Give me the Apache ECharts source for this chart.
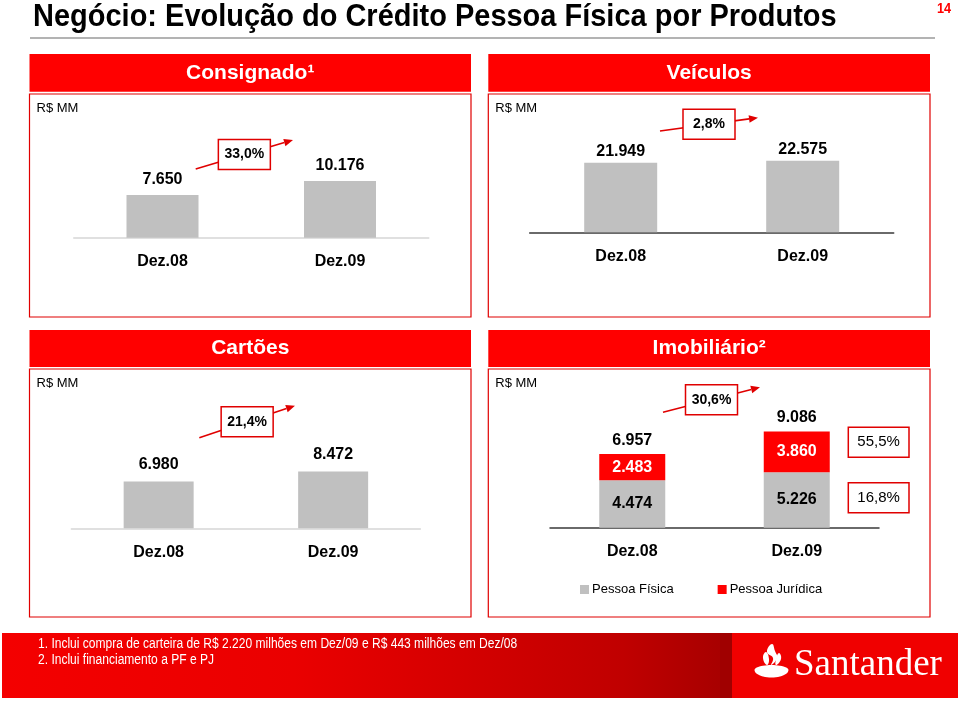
<!DOCTYPE html>
<html><head><meta charset="utf-8">
<script src="https://cdn.jsdelivr.net/npm/echarts@6/dist/echarts.min.js"></script>
<style>html,body{margin:0;padding:0;background:#fff}#c{width:960px;height:701px}</style>
</head><body><div id="c"></div>
<script>
// ---------- data ----------
const categories = ['Dez.08', 'Dez.09'];
const consignado = [7650, 10176];
const veiculos = [21949, 22575];
const cartoes = [6980, 8472];
const imobPF = [4474, 5226];
const imobPJ = [2483, 3860];
const imobTotal = [6957, 9086];
const growthLabels = ['33,0%', '2,8%', '21,4%', '30,6%'];
const imobGrowthPJ = '55,5%';
const imobGrowthPF = '16,8%';
const panelTitles = ['Consignado¹', 'Veículos', 'Cartões', 'Imobiliário²'];
const legendNames = ['Pessoa Física', 'Pessoa Jurídica'];
const unitLabel = 'R$ MM';
const pageTitle = 'Negócio: Evolução do Crédito Pessoa Física por Produtos';
const pageNumber = '14';
const footnotes = [
  '1. Inclui compra de carteira de R$ 2.220 milhões em Dez/09 e R$ 443 milhões em Dez/08',
  '2. Inclui financiamento a PF e PJ'
];
const brandName = 'Santander';

// ---------- style / layout ----------
const RED = '#ff0000';
const GREY = '#c0c0c0';
const FONT = '"Liberation Sans", Arial, sans-serif';
const fmt = v => String(v).replace(/\B(?=(\d{3})+(?!\d))/g, '.');

const grids = [
  { left: 73.75, width: 355, top: 126.1, height: 111.6, max: 20000, axisColor: '#d6d6d6', barWidth: 72, dist: 7 },
  { left: 529.7, width: 364, top: 105.5, height: 126.8, max: 40000, axisColor: '#3a3a3a', barWidth: 73, dist: 3.5 },
  { left: 71.4, width: 349, top: 427.8, height: 100.5, max: 15000, axisColor: '#d6d6d6', barWidth: 70, dist: 9 },
  { left: 550, width: 329, top: 421.7, height: 106, max: 10000, axisColor: '#3a3a3a', barWidth: 66, dist: 5 }
];
const panels = [
  { x: 29.5, w: 441.5, hy: 54, hh: 37.7, by: 94, bh: 223 },
  { x: 488.3, w: 441.7, hy: 54, hh: 37.7, by: 94, bh: 223 },
  { x: 29.5, w: 441.5, hy: 330, hh: 37, by: 369, bh: 248 },
  { x: 488.3, w: 441.7, hy: 330, hh: 37, by: 369, bh: 248 }
];
const arrows = [
  [195.7, 169, 293, 140],
  [660, 131, 758, 117.7],
  [199.3, 437.7, 295, 405.7],
  [663, 412.3, 760, 387.3]
];

const labelStyle = { fontSize: 16, fontWeight: 'bold', color: '#000', fontFamily: FONT };

const option = {
  animation: false,
  textStyle: { fontFamily: FONT },
  grid: grids.map(g => ({ left: g.left, width: g.width, top: g.top, height: g.height, outerBoundsMode: 'none', containLabel: false })),
  xAxis: grids.map((g, i) => ({
    type: 'category', gridIndex: i, data: categories,
    axisTick: { show: false },
    axisLine: { lineStyle: { color: g.axisColor, width: 1.5 } },
    axisLabel: { fontSize: 16, fontWeight: 'bold', color: '#000', margin: 16, fontFamily: FONT }
  })),
  yAxis: grids.map((g, i) => ({ type: 'value', gridIndex: i, min: 0, max: g.max, show: false, splitLine: { show: false } })),
  legend: {
    data: legendNames, left: 580, top: 583, padding: 0, itemWidth: 9, itemHeight: 9, itemGap: 44, icon: 'rect',
    textStyle: { fontSize: 13, color: '#000', fontFamily: FONT, padding: [0, 0, 0, -2] }, selectedMode: false
  },
  series: [
    { name: 'Consignado', type: 'bar', xAxisIndex: 0, yAxisIndex: 0, data: consignado, barWidth: grids[0].barWidth,
      itemStyle: { color: GREY }, label: Object.assign({ show: true, position: 'top', distance: grids[0].dist, formatter: p => fmt(p.value) }, labelStyle) },
    { name: 'Veículos', type: 'bar', xAxisIndex: 1, yAxisIndex: 1, data: veiculos, barWidth: grids[1].barWidth,
      itemStyle: { color: GREY }, label: Object.assign({ show: true, position: 'top', distance: grids[1].dist, formatter: p => fmt(p.value) }, labelStyle) },
    { name: 'Cartões', type: 'bar', xAxisIndex: 2, yAxisIndex: 2, data: cartoes, barWidth: grids[2].barWidth,
      itemStyle: { color: GREY }, label: Object.assign({ show: true, position: 'top', distance: grids[2].dist, formatter: p => fmt(p.value) }, labelStyle) },
    { name: legendNames[0], type: 'bar', xAxisIndex: 3, yAxisIndex: 3, stack: 'imob', data: imobPF, barWidth: grids[3].barWidth,
      itemStyle: { color: GREY }, label: Object.assign({ show: true, position: 'inside', formatter: p => fmt(p.value) }, labelStyle) },
    { name: legendNames[1], type: 'bar', xAxisIndex: 3, yAxisIndex: 3, stack: 'imob', data: imobPJ, barWidth: grids[3].barWidth,
      itemStyle: { color: RED }, label: Object.assign({}, labelStyle, { show: true, position: 'inside', color: '#fff', formatter: p => fmt(p.value) }) },
    { name: 'Total', type: 'scatter', xAxisIndex: 3, yAxisIndex: 3, data: imobTotal, symbolSize: 1, silent: true,
      itemStyle: { color: 'rgba(0,0,0,0)', opacity: 1 },
      label: Object.assign({ show: true, position: 'top', distance: grids[3].dist, formatter: p => fmt(p.value) }, labelStyle) }
  ],
  graphic: []
};

const g = [];
// page title
g.push({ type: 'text', x: 33, y: 2, scaleX: 0.935, style: { text: pageTitle, fill: '#000', font: 'bold 31px ' + FONT } });
g.push({ type: 'line', shape: { x1: 30, y1: 38, x2: 935, y2: 38 }, style: { stroke: '#9a9a9a', lineWidth: 1.5 } });
g.push({ type: 'text', x: 937, y: 1, scaleX: 0.85, style: { text: pageNumber, fill: RED, font: 'bold 15px ' + FONT } });

// panels
panels.forEach((p, i) => {
  g.push({ type: 'rect', shape: { x: p.x, y: p.hy, width: p.w, height: p.hh }, style: { fill: RED } });
  g.push({ type: 'text', x: p.x + p.w / 2, y: p.hy + p.hh / 2, style: { text: panelTitles[i], fill: '#fff', font: 'bold 21px ' + FONT, align: 'center', verticalAlign: 'middle' } });
  g.push({ type: 'rect', shape: { x: p.x, y: p.by, width: p.w, height: p.bh }, style: { fill: 'none', stroke: '#e00000', lineWidth: 1.2 } });
  g.push({ type: 'text', x: p.x + 7, y: p.by + 14, style: { text: unitLabel, fill: '#000', font: '13px ' + FONT, verticalAlign: 'middle' } });
});

// growth arrows + boxes
arrows.forEach((a, i) => {
  const [sx, sy, ex, ey] = a;
  const dx = ex - sx, dy = ey - sy, L = Math.hypot(dx, dy);
  const ux = dx / L, uy = dy / L, nx = -uy, ny = ux;
  const hl = 9, hw = 3.8;
  const bx = ex - ux * hl, by = ey - uy * hl;
  g.push({ type: 'line', shape: { x1: sx, y1: sy, x2: bx, y2: by }, style: { stroke: '#e00000', lineWidth: 1.6 } });
  g.push({ type: 'polygon', shape: { points: [[ex, ey], [bx + nx * hw, by + ny * hw], [bx - nx * hw, by - ny * hw]] }, style: { fill: '#e00000' } });
  const cx = (sx + ex) / 2, cy = (sy + ey) / 2;
  g.push({ type: 'rect', shape: { x: cx - 26, y: cy - 15, width: 52, height: 30 }, style: { fill: '#fff', stroke: '#e00000', lineWidth: 1.5 } });
  g.push({ type: 'text', x: cx, y: cy, style: { text: growthLabels[i], fill: '#000', font: 'bold 14px ' + FONT, align: 'center', verticalAlign: 'middle' } });
});

// segment growth boxes (Imobiliário)
[[imobGrowthPJ, 427.3], [imobGrowthPF, 482.7]].forEach(([t, y]) => {
  g.push({ type: 'rect', shape: { x: 848.3, y: y, width: 60.7, height: 30 }, style: { fill: '#fff', stroke: '#e00000', lineWidth: 1.5 } });
  g.push({ type: 'text', x: 878.6, y: y + 15, style: { text: t, fill: '#000', font: '15px ' + FONT, align: 'center', verticalAlign: 'middle' } });
});

// footer band
g.push({ type: 'rect', shape: { x: 2, y: 633, width: 730, height: 65 }, style: {
  fill: new echarts.graphic.LinearGradient(0, 0, 1, 0, [
    { offset: 0, color: '#f40000' }, { offset: 0.4, color: '#ea0000' }, { offset: 0.85, color: '#c00000' }, { offset: 1, color: '#a50000' }
  ]) } });
g.push({ type: 'rect', shape: { x: 720, y: 633, width: 12, height: 65 }, style: { fill: '#a00000' } });
g.push({ type: 'rect', shape: { x: 732, y: 633, width: 226, height: 65 }, style: { fill: '#f00000' } });
footnotes.forEach((t, i) => {
  g.push({ type: 'text', x: 38, y: 644 + i * 16, scaleX: 0.86, style: { text: t, fill: '#fff', font: '14px ' + FONT, verticalAlign: 'middle' } });
});
// Santander flame logo (decorative)
const bowl = [];
for (let k = 0; k <= 24; k++) {
  const t = Math.PI * 2 * k / 24;
  bowl.push([771.5 + 17 * Math.cos(t), 670 + (Math.sin(t) > 0 ? 7.5 : 5) * Math.sin(t)]);
}
g.push({ type: 'polygon', shape: { points: bowl, smooth: 0.3 }, style: { fill: '#fff' } });
g.push({ type: 'polygon', shape: { points: [[772, 644], [767, 652], [773, 658], [771, 665], [777, 658], [775, 651]], smooth: 0.5 }, style: { fill: '#fff' } });
g.push({ type: 'polygon', shape: { points: [[766, 652], [763, 658], [767, 665], [769, 659]], smooth: 0.5 }, style: { fill: '#fff' } });
g.push({ type: 'polygon', shape: { points: [[779, 653], [776, 659], [776, 665], [781, 659]], smooth: 0.5 }, style: { fill: '#fff' } });
g.push({ type: 'text', x: 794, y: 665, style: { text: brandName, fill: '#fff', font: '37px "Liberation Serif", "DejaVu Serif", serif', verticalAlign: 'middle' } });

option.graphic = g;
const chart = echarts.init(document.getElementById('c'), null, { renderer: 'canvas' });
chart.setOption(option);
</script></body></html>
